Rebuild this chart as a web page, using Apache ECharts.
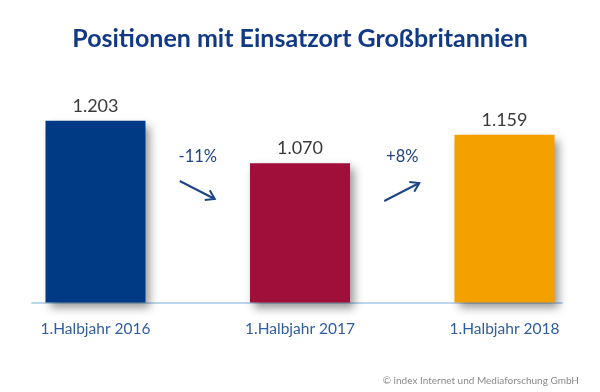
<!DOCTYPE html>
<html>
<head>
<meta charset="utf-8">
<script src="https://cdn.jsdelivr.net/npm/echarts@6/dist/echarts.min.js"></script>
<style>
html,body{margin:0;padding:0;background:#fff;}
#chart{width:600px;height:392px;}
</style>
</head>
<body>
<div id="chart"></div>
<script>
// Data
var categories = ['1.Halbjahr 2016', '1.Halbjahr 2017', '1.Halbjahr 2018'];
var values = [1203, 1070, 1159];
var barColors = ['#003a84', '#9f0f3a', '#f4a000'];
var titleText = 'Positionen mit Einsatzort Großbritannien';
var sourceText = '© index Internet und Mediaforschung GmbH';

var chart = echarts.init(document.getElementById('chart'), null, {renderer: 'canvas'});
var FONT = 'Lato, "Noto Sans", sans-serif';

var option = {
  animation: false,
  backgroundColor: '#ffffff',
  title: [
    {
      text: titleText,
      left: 'center',
      top: 21,
      textStyle: {fontFamily: FONT, fontSize: 25, fontWeight: 'bold', color: '#123a84'}
    },
    {
      text: sourceText,
      right: 16,
      top: 371,
      textStyle: {fontFamily: FONT, fontSize: 10, fontWeight: 'normal', color: '#8a8a8a'}
    }
  ],
  grid: [
    {left: 95.5, right: 95.5, top: 120.7, bottom: 89.5, containLabel: false},
    {left: 32, right: 38, top: 120.7, bottom: 89.5, containLabel: false}
  ],
  xAxis: [
    {
      type: 'category', gridIndex: 0, data: categories, boundaryGap: false,
      axisLine: {show: false}, axisTick: {show: false},
      axisLabel: {margin: 18, fontFamily: FONT, fontSize: 15.5, color: '#2f5e9e', interval: 0}
    },
    {
      type: 'value', gridIndex: 1, min: 0, max: 1,
      axisLine: {show: true, lineStyle: {color: '#bcd6ec', width: 2}},
      axisTick: {show: false}, axisLabel: {show: false}, splitLine: {show: false}
    }
  ],
  yAxis: [
    {type: 'value', gridIndex: 0, min: 635, max: Math.max.apply(null, values), show: false, splitLine: {show: false}},
    {type: 'value', gridIndex: 1, min: 0, max: 1, show: false}
  ],
  series: [{
    type: 'bar',
    xAxisIndex: 0, yAxisIndex: 0,
    barWidth: 100,
    data: values.map(function (v, i) {
      return {value: v, itemStyle: {color: barColors[i]}};
    }),
    itemStyle: {
      shadowColor: 'rgba(0,0,0,0.42)',
      shadowBlur: 9,
      shadowOffsetX: 4,
      shadowOffsetY: 5
    },
    label: {
      show: true,
      position: 'top',
      distance: 6,
      fontFamily: FONT,
      fontSize: 18,
      color: '#3a3a3a',
      formatter: function (p) {
        return echarts.format.addCommas(p.value).replace(',', '.');
      }
    }
  }]
};
chart.setOption(option);

// Change annotations between bars
var graphics = [];
var arrowColor = '#1d4586';
function rot(x, y, ang) { return [x * Math.cos(ang) - y * Math.sin(ang), x * Math.sin(ang) + y * Math.cos(ang)]; }
for (var i = 0; i < values.length - 1; i++) {
  var x1 = chart.convertToPixel({xAxisIndex: 0}, categories[i]);
  var x2 = chart.convertToPixel({xAxisIndex: 0}, categories[i + 1]);
  var mid = (x1 + x2) / 2;
  var pct = Math.round((values[i + 1] / values[i] - 1) * 100);
  var txt = (pct > 0 ? '+' : '') + pct + '%';
  graphics.push({
    type: 'text',
    x: mid, y: 157,
    style: {
      text: txt, fill: arrowColor, fontFamily: FONT, fontSize: 16.5, fontWeight: 'normal',
      align: 'center', verticalAlign: 'middle'
    }
  });
  var down = pct < 0;
  var sx = mid - 18, ex = mid + 17;
  var sy = down ? 181 : 201, ey = down ? 199 : 183;
  var dx = ex - sx, dy = ey - sy, len = Math.sqrt(dx * dx + dy * dy);
  var ux = dx / len, uy = dy / len;
  var L = 10, a = Math.PI / 5.5;
  var r1 = rot(ux, uy, a), r2 = rot(ux, uy, -a);
  graphics.push({
    type: 'polyline',
    shape: {points: [[sx, sy], [ex, ey]]},
    style: {stroke: arrowColor, lineWidth: 2, fill: null}
  });
  graphics.push({
    type: 'polyline',
    shape: {points: [[ex - L * r1[0], ey - L * r1[1]], [ex, ey], [ex - L * r2[0], ey - L * r2[1]]]},
    style: {stroke: arrowColor, lineWidth: 2, fill: null, lineJoin: 'miter'}
  });
}
chart.setOption({graphic: graphics});
</script>
</body>
</html>
